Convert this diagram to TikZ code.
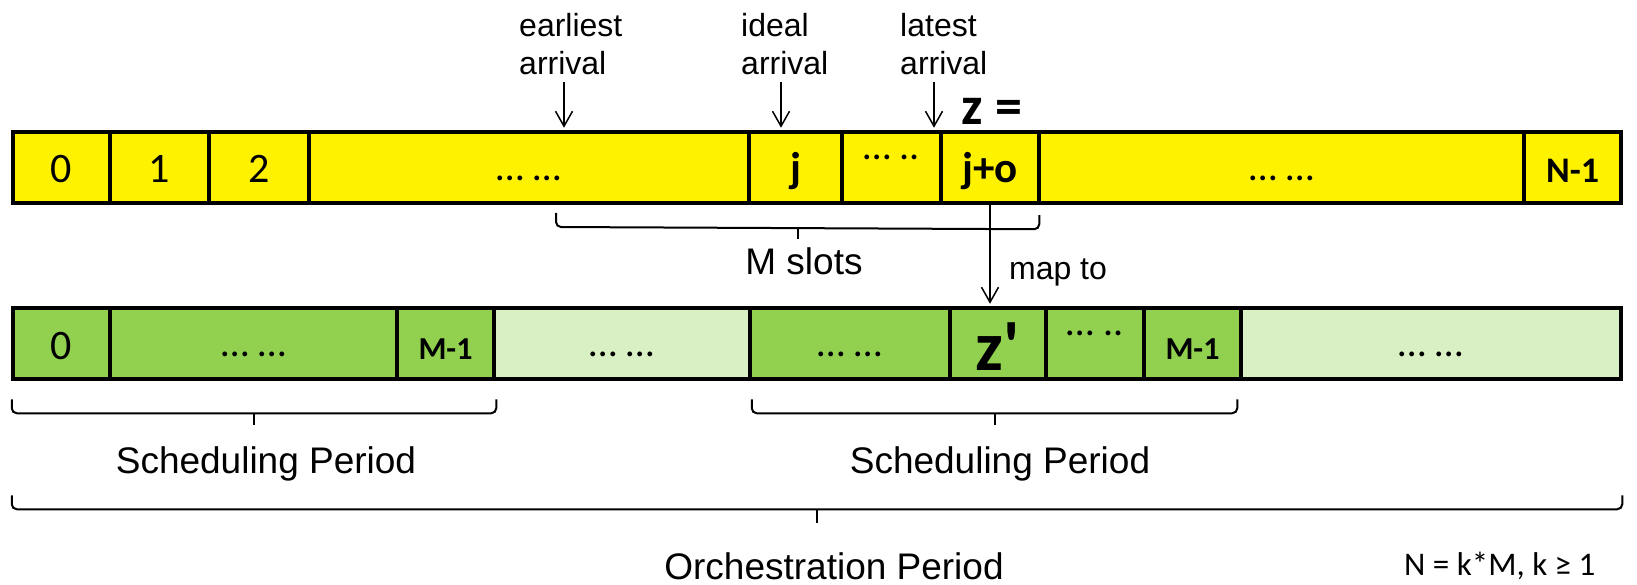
\documentclass[tikz,border=0pt]{standalone}
\usepackage{fontspec}
\setmainfont{Liberation Sans}
\newfontfamily\calib{Carlito}
\usetikzlibrary{arrows.meta,calc}
\definecolor{grnC}{HTML}{92D050}
\definecolor{lgtC}{HTML}{D9F0C5}
\newcommand\hbrace[4]{% left, right, hook, tip
  \draw[brline, rounded corners=5pt] (#1) -- ++(0,#3) -- ($(#2)+(0,#3)$) -- (#2);
  \draw[brline] ($(#1)!0.5!(#2)+(0,#3)$) -- ++(0,#4);}
\begin{document}
\begin{tikzpicture}[x=1pt,y=-1pt,
  cell/.style={draw=black, line width=4.5pt, minimum height=71pt, inner sep=0pt,
    text height=31pt, text depth=0pt, font=\calib\fontsize{42}{42}\selectfont},
  yel/.style={cell, fill=yellow},
  grn/.style={cell, fill=grnC},
  lgt/.style={cell, fill=lgtC},
  bnum/.style={font=\calib\bfseries\fontsize{43}{43}\selectfont},
  mnum/.style={font=\calib\bfseries\fontsize{32}{32}\selectfont},
  dts/.style={font=\calib\fontsize{40}{40}\selectfont, text height=26pt},
  raised/.style={font=\calib\fontsize{40}{40}\selectfont, text height=0pt, text depth=16pt},
  lbl/.style={font=\fontsize{32}{38.5}\selectfont, align=left, inner sep=0pt},
  big/.style={font=\fontsize{37}{37}\selectfont, inner sep=0pt},
  arr/.style={line width=1.5pt, -{Straight Barb[length=15pt,width=17pt]}},
  brline/.style={line width=2pt}
]
\useasboundingbox (0,0) rectangle (1637,585);

% top (yellow) bar
\node[yel, minimum width=97pt]  (t0) at (61.5,167.5) {0};
\node[yel, minimum width=99pt]  (t1) at (159.5,167.5) {1};
\node[yel, minimum width=100pt] (t2) at (259,167.5) {2};
\node[yel, dts, minimum width=440pt] (t3) at (529,167.5) {… …};
\node[yel, bnum, minimum width=93pt] (t4) at (795.5,167.5) {j};
\node[yel, raised, minimum width=99pt] (t5) at (891.5,167.5) {… ..};
\node[yel, bnum, minimum width=98pt] (t6) at (990,167.5) {j+o};
\node[yel, dts, minimum width=485pt] (t7) at (1281.5,167.5) {… …};
\node[yel, font=\calib\bfseries\fontsize{36}{36}\selectfont, minimum width=97pt] (t8) at (1572.5,167.5) {N-1};

% bottom (green) bar
\node[grn, minimum width=97pt]  (g0) at (61.5,343.5) {0};
\node[grn, dts, minimum width=287pt] (g1) at (253.5,343.5) {… …};
\node[grn, mnum, minimum width=97pt] (g2) at (445.5,343.5) {M-1};
\node[lgt, dts, minimum width=256pt] (g3) at (622,343.5) {… …};
\node[grn, dts, minimum width=200pt] (g4) at (850,343.5) {… …};
\node[grn, font=\calib\bfseries\fontsize{70}{70}\selectfont, text height=54pt, minimum width=96pt] (g5) at (998,343.5) {z\char"0027};
\node[grn, raised, minimum width=98pt] (g6) at (1095,343.5) {… ..};
\node[grn, mnum, minimum width=97pt] (g7) at (1192.5,343.5) {M-1};
\node[lgt, dts, minimum width=380pt] (g8) at (1431,343.5) {… …};

% arrival labels
\node[lbl, anchor=north west] (lblE) at (519,13) {earliest\\arrival};
\node[lbl, anchor=north west] (lblI) at (741,13) {ideal\\arrival};
\node[lbl, anchor=north west] (lblL) at (900,13) {latest\\arrival};
\coordinate (eA) at ([xshift=45pt, yshift=-7pt]lblE.south west);
\coordinate (iA) at ([xshift=40pt, yshift=-7pt]lblI.south west);
\coordinate (lA) at ([xshift=34pt, yshift=-7pt]lblL.south west);
\draw[arr] (eA) -- ($(eA |- t3.north)+(0,-2)$);
\draw[arr] (iA) -- ($(iA |- t4.north)+(0,-2)$);
\draw[arr] (lA) -- ($(lA |- t5.north)+(0,-2)$);

\node[font=\calib\bfseries\fontsize{54}{54}\selectfont, anchor=base, inner sep=0pt] (zeq) at (992,125) {z =};

% M slots brace
\coordinate (msL) at (556,213);
\coordinate (msR) at ([xshift=-2pt, yshift=-10pt]t6.south east);
\hbrace{msL}{msR}{14}{11}
\node[big] (ms) at (804,261.5) {M slots};

% map arrow
\draw[arr] (t6.south) -- ($(t6.south |- g5.north)+(0,-2)$);
\node[lbl] (mapto) at (1058,272) {map to};

% scheduling braces
\coordinate (s1L) at ([xshift=1pt, yshift=-18pt]g0.south west);
\coordinate (s1R) at ([yshift=-18pt]g2.south east);
\hbrace{s1L}{s1R}{14}{12}
\node[big] (sp1) at (266,463.5) {Scheduling Period};
\coordinate (s2L) at ([xshift=4pt, yshift=-18pt]g4.south west);
\coordinate (s2R) at ([xshift=-6pt, yshift=-18pt]g7.south east);
\hbrace{s2L}{s2R}{14}{12}
\node[big] (sp2) at (1000,463.5) {Scheduling Period};

% orchestration brace
\coordinate (oL) at ([xshift=1pt, yshift=-114pt]g0.south west);
\coordinate (oR) at ([xshift=-1pt, yshift=-114pt]g8.south east);
\hbrace{oL}{oR}{14}{14}
\node[big] (op) at (834,566.5) {Orchestration Period};

\node[font=\calib\fontsize{33}{33}\selectfont, anchor=base west, inner sep=0pt] (eq) at (1404,575) {N = k*M, k ≥ 1};
\end{tikzpicture}
\end{document}
